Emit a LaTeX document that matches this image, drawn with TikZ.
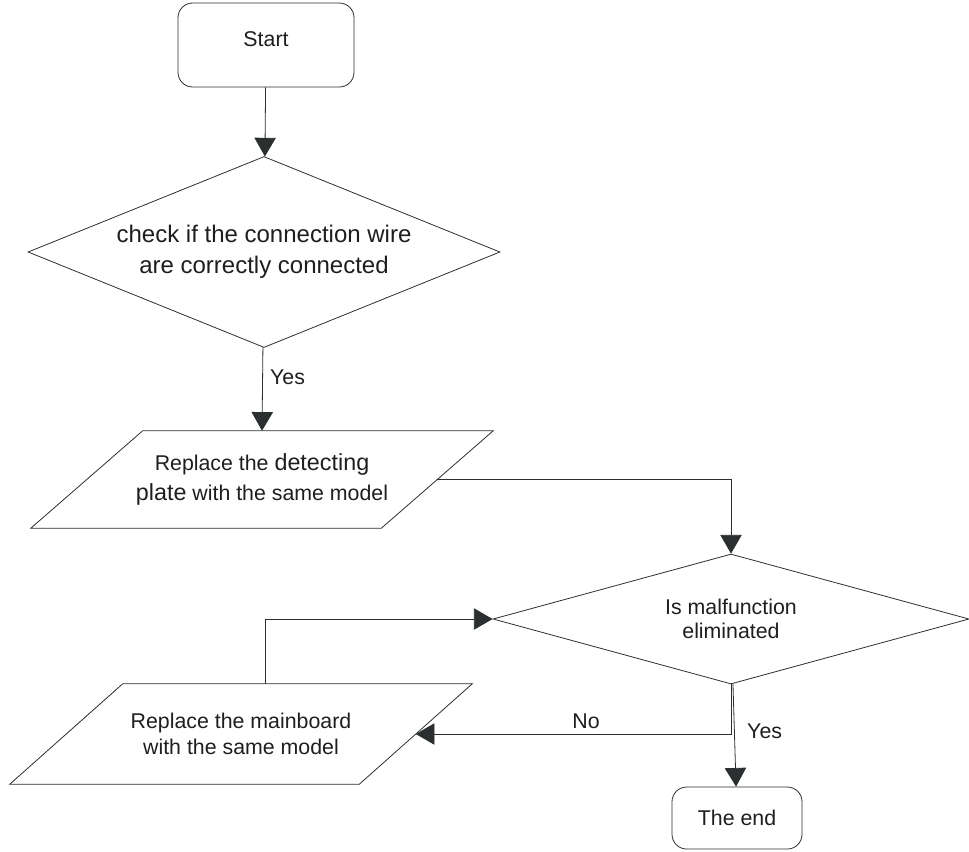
\documentclass[tikz,border=0pt]{standalone}
\usepackage{fontspec}
\setmainfont{Liberation Sans}
\usepackage{xcolor}
\usetikzlibrary{arrows.meta,shapes.geometric}
\definecolor{FlowLine}{HTML}{2B2F2F}
\definecolor{FlowText}{HTML}{1E1E1E}

\begin{document}
\begin{tikzpicture}[
  x=0.75pt,y=-0.75pt,
  every node/.style={text=FlowText,align=center,font=\fontsize{16}{20}\selectfont},
  termbox/.style={draw=FlowLine,line width=0.6pt,rounded corners=11pt},
  decide/.style={diamond,draw=FlowLine,line width=0.6pt,inner sep=0pt},
  iobox/.style={inner sep=0pt},
  slant/.style={draw=FlowLine,line width=0.6pt},
  arr/.style={-{Triangle[length=14pt,width=16pt]},line width=0.6pt,color=FlowLine}
]
\useasboundingbox (0,0) rectangle (969,851);
\node[termbox,minimum width=132pt,minimum height=63pt,text height=11pt,text depth=9pt] (start) at (266,45) {Start};
\node[decide,aspect=2.47,minimum width=354pt,minimum height=143.25pt,font=\fontsize{18}{23.25}\selectfont] (check) at (264,252)
  {check if the connection wire\\are correctly connected};
\node[iobox,minimum width=262.5pt,minimum height=72.75pt,font=\fontsize{16}{22.5}\selectfont] (plate) at (262,479.5)
  {Replace the {\fontsize{17.5}{20}\selectfont detecting}\\{\fontsize{17.5}{20}\selectfont plate} with the same model};
\draw[slant] ([xshift=42pt]plate.north west)--([xshift=42pt]plate.north east)
  --([xshift=-42pt]plate.south east)--([xshift=-42pt]plate.south west)--cycle;
\node[decide,aspect=3.66,minimum width=357pt,minimum height=97.5pt,font=\fontsize{16}{18}\selectfont] (fixed) at (731,619)
  {Is malfunction\\eliminated};
\node[iobox,minimum width=261.75pt,minimum height=75pt,font=\fontsize{16}{19.5}\selectfont] (board) at (241,734)
  {Replace the mainboard\\with the same model};
\draw[slant] ([xshift=42.4pt]board.north west)--([xshift=42.4pt]board.north east)
  --([xshift=-42.4pt]board.south east)--([xshift=-42.4pt]board.south west)--cycle;
\node[termbox,minimum width=97.5pt,minimum height=46.5pt] (end) at (737,818) {The end};
\draw[arr] (start)--(check);
\draw[arr] (check)--node[right=2pt,pos=0.36]{Yes} (plate.north);
\draw[arr] (plate.east)-|(fixed.north);
\draw[arr] (fixed)--node[right=6pt,pos=0.46]{Yes} (end);
\draw[arr] (fixed.south)|-node[above,pos=0.73]{No} (board.east);
\draw[arr] ([xshift=18pt]board.north)|-(fixed.west);
\end{tikzpicture}
\end{document}
